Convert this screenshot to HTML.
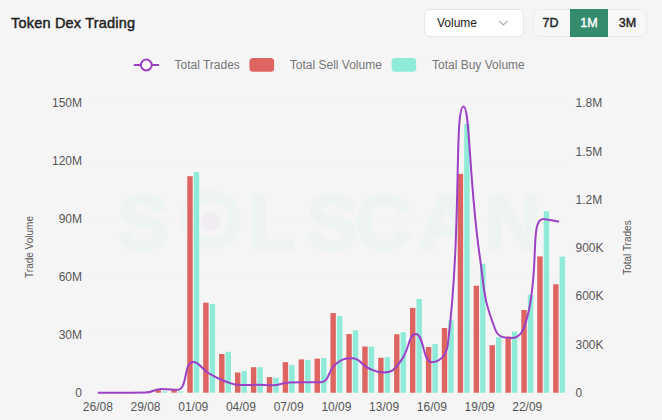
<!DOCTYPE html>
<html><head><meta charset="utf-8"><style>
*{box-sizing:border-box;margin:0;padding:0}
html,body{width:662px;height:420px;overflow:hidden;background:#f5f5f5;font-family:"Liberation Sans",sans-serif}
.title{position:absolute;left:11px;top:15px;font-size:14.5px;font-weight:normal;color:#222;-webkit-text-stroke:0.45px #222;letter-spacing:0.2px;white-space:nowrap}
.dd{position:absolute;left:424px;top:9.2px;width:99.5px;height:27.4px;background:#fff;border:1px solid #e6e6e6;border-radius:6px}
.dd span{position:absolute;left:12px;top:6px;font-size:12px;color:#222}
.grp{position:absolute;left:532.5px;top:8.8px;width:114px;height:28px;border:1px solid #eaeaea;border-radius:7px;background:#f7f7f7}
.grp div{position:absolute;top:0;height:26px;font-size:12.5px;font-weight:normal;-webkit-text-stroke:0.4px currentColor;color:#222;text-align:center;line-height:26px}
svg{position:absolute;left:0;top:0}
</style></head><body>
<div class="title">Token Dex Trading</div>
<div class="dd"><span>Volume</span><svg width="12" height="8" style="left:73px;top:9.7px" viewBox="0 0 12 8"><path d="M1 0.8 L5.3 5 L9.6 0.8" fill="none" stroke="#ababab" stroke-width="1.1"/></svg></div>
<div class="grp"><div style="left:-1.5px;width:37px">7D</div><div style="left:36.5px;top:-1px;height:28px;line-height:28px;width:38px;background:#348c6d;color:#fff">1M</div><div style="left:75px;width:38px">3M</div></div>
<svg width="662" height="420" viewBox="0 0 662 420" style="pointer-events:none">
<g font-family="Liberation Sans" font-size="12" fill="#777">
<line x1="133.8" y1="65" x2="159" y2="65" stroke="#9c40c6" stroke-width="2"/>
<circle cx="146.3" cy="65" r="5.4" fill="#fff" stroke="#9c40c6" stroke-width="2"/>
<text x="174.5" y="69.3">Total Trades</text>
<rect x="249.5" y="58" width="24.6" height="13.8" rx="3.5" fill="#de6460"/>
<text x="289.8" y="69.3">Total Sell Volume</text>
<rect x="391.6" y="58" width="24.6" height="13.8" rx="3.5" fill="#8febd7"/>
<text x="432" y="69.3">Total Buy Volume</text>
</g>
<g fill="#edf4f1" stroke="#edf4f1" stroke-width="2.5" stroke-linejoin="round" font-family="Liberation Sans" font-weight="bold" font-size="78">
<text x="117" y="248.5">S</text>
<circle cx="211" cy="219.5" r="24" fill="none" stroke="#edf4f1" stroke-width="12"/>
<circle cx="210.5" cy="221.5" r="10" fill="#f2edf3" stroke="none"/>
<text x="248" y="248.5">L</text>
<text x="306" y="248.5">S</text>
<text x="355" y="248.5">C</text>
<text x="418" y="248.5">A</text>
<text x="485" y="248.5">N</text>
</g>
<g><line x1="89.85" y1="334.78" x2="567.06" y2="334.78" stroke="#ededed" stroke-width="0.6" stroke-dasharray="5 4"/><line x1="89.85" y1="276.86" x2="567.06" y2="276.86" stroke="#ededed" stroke-width="0.6" stroke-dasharray="5 4"/><line x1="89.85" y1="218.94" x2="567.06" y2="218.94" stroke="#ededed" stroke-width="0.6" stroke-dasharray="5 4"/><line x1="89.85" y1="161.02" x2="567.06" y2="161.02" stroke="#ededed" stroke-width="0.6" stroke-dasharray="5 4"/><line x1="89.85" y1="103.10" x2="567.06" y2="103.10" stroke="#ededed" stroke-width="0.6" stroke-dasharray="5 4"/></g>
<g font-family="Liberation Sans" font-size="12" fill="#555"><text x="82" y="396.90" text-anchor="end">0</text><text x="82" y="338.98" text-anchor="end">30M</text><text x="82" y="281.06" text-anchor="end">60M</text><text x="82" y="223.14" text-anchor="end">90M</text><text x="82" y="165.22" text-anchor="end">120M</text><text x="82" y="107.30" text-anchor="end">150M</text><text x="575.5" y="396.90" text-anchor="start">0</text><text x="575.5" y="348.63" text-anchor="start">300K</text><text x="575.5" y="300.37" text-anchor="start">600K</text><text x="575.5" y="252.10" text-anchor="start">900K</text><text x="575.5" y="203.83" text-anchor="start">1.2M</text><text x="575.5" y="155.57" text-anchor="start">1.5M</text><text x="575.5" y="107.30" text-anchor="start">1.8M</text><text x="97.80" y="410.5" text-anchor="middle">26/08</text><text x="145.52" y="410.5" text-anchor="middle">29/08</text><text x="193.24" y="410.5" text-anchor="middle">01/09</text><text x="240.96" y="410.5" text-anchor="middle">04/09</text><text x="288.68" y="410.5" text-anchor="middle">07/09</text><text x="336.40" y="410.5" text-anchor="middle">10/09</text><text x="384.13" y="410.5" text-anchor="middle">13/09</text><text x="431.85" y="410.5" text-anchor="middle">16/09</text><text x="479.57" y="410.5" text-anchor="middle">19/09</text><text x="527.29" y="410.5" text-anchor="middle">22/09</text></g>
<text transform="translate(33.2,247) rotate(-90)" text-anchor="middle" font-family="Liberation Sans" font-size="10" fill="#555">Trade Volume</text>
<text transform="translate(631,247.6) rotate(-90)" text-anchor="middle" font-family="Liberation Sans" font-size="10" fill="#555">Total Trades</text>
<g><rect x="155.47" y="390.10" width="5.42" height="2.60" fill="#de6460"/><rect x="161.97" y="391.30" width="5.42" height="1.40" fill="#8febd7"/><rect x="171.38" y="390.30" width="5.42" height="2.40" fill="#de6460"/><rect x="177.87" y="391.40" width="5.42" height="1.30" fill="#8febd7"/><rect x="187.28" y="176.20" width="5.42" height="216.50" fill="#de6460"/><rect x="193.78" y="171.90" width="5.42" height="220.80" fill="#8febd7"/><rect x="203.19" y="302.70" width="5.42" height="90.00" fill="#de6460"/><rect x="209.69" y="304.10" width="5.42" height="88.60" fill="#8febd7"/><rect x="219.10" y="354.00" width="5.42" height="38.70" fill="#de6460"/><rect x="225.60" y="351.80" width="5.42" height="40.90" fill="#8febd7"/><rect x="235.00" y="372.50" width="5.42" height="20.20" fill="#de6460"/><rect x="241.50" y="371.00" width="5.42" height="21.70" fill="#8febd7"/><rect x="250.91" y="367.20" width="5.42" height="25.50" fill="#de6460"/><rect x="257.41" y="367.20" width="5.42" height="25.50" fill="#8febd7"/><rect x="266.82" y="377.10" width="5.42" height="15.60" fill="#de6460"/><rect x="273.32" y="377.80" width="5.42" height="14.90" fill="#8febd7"/><rect x="282.72" y="362.20" width="5.42" height="30.50" fill="#de6460"/><rect x="289.22" y="365.00" width="5.42" height="27.70" fill="#8febd7"/><rect x="298.63" y="359.40" width="5.42" height="33.30" fill="#de6460"/><rect x="305.13" y="360.00" width="5.42" height="32.70" fill="#8febd7"/><rect x="314.54" y="358.70" width="5.42" height="34.00" fill="#de6460"/><rect x="321.04" y="358.10" width="5.42" height="34.60" fill="#8febd7"/><rect x="330.44" y="313.10" width="5.42" height="79.60" fill="#de6460"/><rect x="336.94" y="316.00" width="5.42" height="76.70" fill="#8febd7"/><rect x="346.35" y="334.10" width="5.42" height="58.60" fill="#de6460"/><rect x="352.85" y="330.20" width="5.42" height="62.50" fill="#8febd7"/><rect x="362.26" y="346.50" width="5.42" height="46.20" fill="#de6460"/><rect x="368.76" y="346.50" width="5.42" height="46.20" fill="#8febd7"/><rect x="378.17" y="357.80" width="5.42" height="34.90" fill="#de6460"/><rect x="384.67" y="357.10" width="5.42" height="35.60" fill="#8febd7"/><rect x="394.07" y="334.30" width="5.42" height="58.40" fill="#de6460"/><rect x="400.57" y="332.30" width="5.42" height="60.40" fill="#8febd7"/><rect x="409.98" y="307.90" width="5.42" height="84.80" fill="#de6460"/><rect x="416.48" y="299.00" width="5.42" height="93.70" fill="#8febd7"/><rect x="425.89" y="347.00" width="5.42" height="45.70" fill="#de6460"/><rect x="432.39" y="344.00" width="5.42" height="48.70" fill="#8febd7"/><rect x="441.79" y="328.00" width="5.42" height="64.70" fill="#de6460"/><rect x="448.29" y="320.30" width="5.42" height="72.40" fill="#8febd7"/><rect x="457.70" y="173.90" width="5.42" height="218.80" fill="#de6460"/><rect x="464.20" y="124.00" width="5.42" height="268.70" fill="#8febd7"/><rect x="473.61" y="285.70" width="5.42" height="107.00" fill="#de6460"/><rect x="480.11" y="263.80" width="5.42" height="128.90" fill="#8febd7"/><rect x="489.51" y="345.20" width="5.42" height="47.50" fill="#de6460"/><rect x="496.02" y="337.20" width="5.42" height="55.50" fill="#8febd7"/><rect x="505.42" y="336.50" width="5.42" height="56.20" fill="#de6460"/><rect x="511.92" y="331.60" width="5.42" height="61.10" fill="#8febd7"/><rect x="521.33" y="310.00" width="5.42" height="82.70" fill="#de6460"/><rect x="527.83" y="294.70" width="5.42" height="98.00" fill="#8febd7"/><rect x="537.24" y="256.40" width="5.42" height="136.30" fill="#de6460"/><rect x="543.74" y="211.20" width="5.42" height="181.50" fill="#8febd7"/><rect x="553.14" y="284.30" width="5.42" height="108.40" fill="#de6460"/><rect x="559.64" y="256.60" width="5.42" height="136.10" fill="#8febd7"/></g>
<path d="M97.80,392.70 C97.80,392.70 105.75,392.70 113.71,392.70 C121.66,392.70 121.66,392.70 129.61,392.70 C137.57,392.70 137.67,392.70 145.52,392.60 C153.58,392.50 153.38,388.90 161.43,388.90 C169.28,388.90 172.05,389.80 177.33,389.80 C187.96,389.80 183.38,362.00 193.24,362.00 C199.29,362.00 200.78,368.45 209.15,373.50 C216.69,378.05 216.79,378.21 225.06,381.20 C232.70,383.96 232.90,385.00 240.96,385.00 C248.81,385.00 248.92,384.80 256.87,384.80 C264.83,384.80 264.88,385.30 272.78,385.30 C280.79,385.30 280.67,382.80 288.68,382.50 C296.58,382.20 296.64,382.20 304.59,382.20 C312.54,382.20 314.24,382.20 320.50,382.20 C330.15,382.20 326.95,370.61 336.40,363.50 C342.85,358.66 344.78,358.30 352.31,358.30 C360.69,358.30 359.80,364.21 368.22,368.00 C375.70,371.36 376.74,372.60 384.13,372.60 C392.65,372.60 394.12,369.20 400.03,362.00 C410.02,349.85 408.01,333.90 415.94,333.90 C423.91,333.90 422.61,362.20 431.85,362.20 C438.51,362.20 446.33,356.41 447.75,345.00 C462.24,228.56 453.87,106.50 463.66,106.50 C469.78,106.50 469.06,181.16 479.57,255.00 C484.96,292.91 482.57,296.32 495.48,330.00 C498.47,337.82 504.97,338.00 511.38,338.00 C520.87,338.00 523.95,329.48 527.29,317.00 C539.86,269.98 529.51,219.00 543.20,219.00 C545.42,219.00 559.10,221.70 559.10,221.70" fill="none" stroke="#9c40c6" stroke-width="2" stroke-linejoin="round"/>
</svg>
</body></html>
